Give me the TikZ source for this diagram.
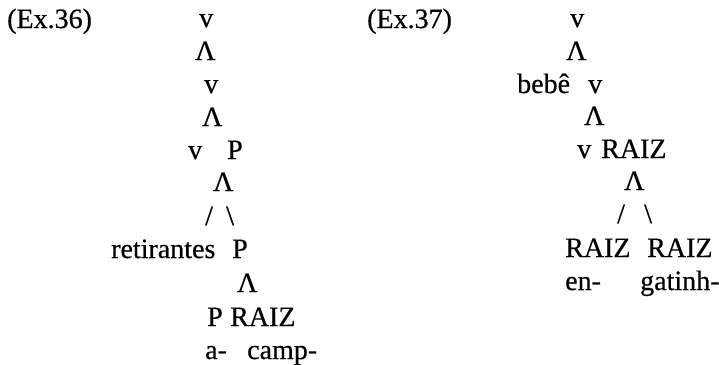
\documentclass[tikz,border=0pt]{standalone}
\usepackage{fontspec}
\setmainfont{Liberation Serif}[FakeBold=0.5]
\begin{document}
\begin{tikzpicture}[x=1pt,y=-1pt,
  lbl/.style={anchor=base west, inner sep=0pt, font=\fontsize{28}{32}\selectfont}]
\useasboundingbox (0,0) rectangle (719,364);
% Ex.36
\node[lbl] (ex36) at (7,28) {(Ex.36)};
\node[lbl] (a1) at (199,27) {v};
\node[lbl] (a2) at (195,60) {Λ};
\node[lbl] (a3) at (204,93) {v};
\node[lbl] (a4) at (202,126) {Λ};
\node[lbl] (a5) at (188,159) {v};
\node[lbl] (a6) at (227,159) {P};
\node[lbl] (a7) at (213,191) {Λ};
\node[lbl] (a8) at (205,225) {/};
\node[lbl] (a9) at (226,225) {\textbackslash};
\node[lbl] (a10) at (111,258) {retirantes};
\node[lbl] (a11) at (232,258) {P};
\node[lbl] (a12) at (237,292) {Λ};
\node[lbl] (a13) at (207,326) {P};
\node[lbl] (a14) at (230,326) {RAIZ};
\node[lbl] (a15) at (205,359) {a-};
\node[lbl] (a16) at (247,359) {camp-};
% Ex.37
\node[lbl] (ex37) at (367,28) {(Ex.37)};
\node[lbl] (b1) at (570,27) {v};
\node[lbl] (b2) at (566,60) {Λ};
\node[lbl] (b3) at (517,93) {bebê};
\node[lbl] (b4) at (588,93) {v};
\node[lbl] (b5) at (584,125) {Λ};
\node[lbl] (b6) at (577,158) {v};
\node[lbl] (b7) at (601,158) {RAIZ};
\node[lbl] (b8) at (624,190) {Λ};
\node[lbl] (b9) at (617,223) {/};
\node[lbl] (b10) at (644,223) {\textbackslash};
\node[lbl] (b11) at (565,257) {RAIZ};
\node[lbl] (b12) at (647,257) {RAIZ};
\node[lbl] (b13) at (565,290) {en-};
\node[lbl] (b14) at (640,290) {gatinh-};
\end{tikzpicture}
\end{document}
